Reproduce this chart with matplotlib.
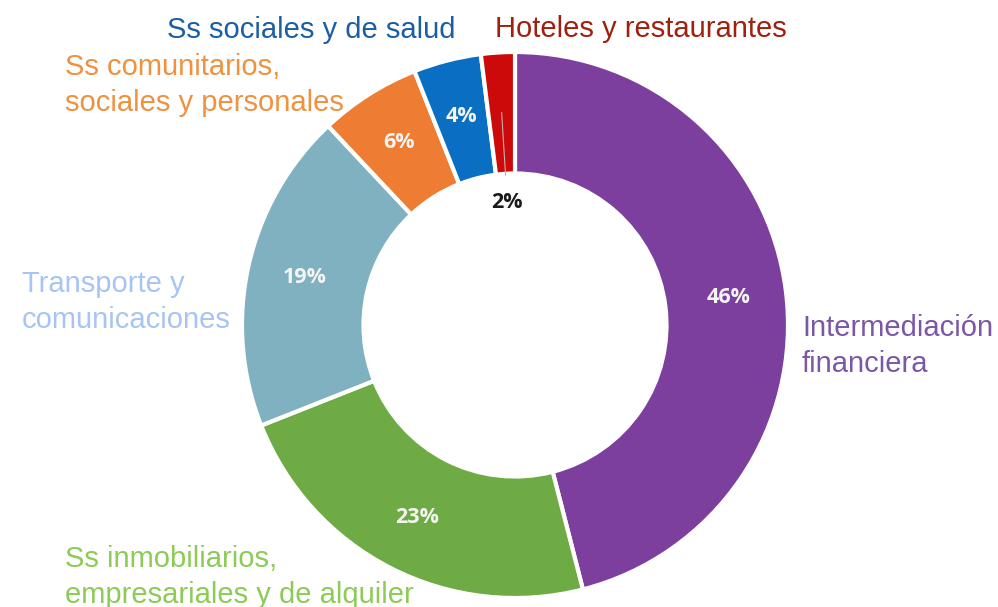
import numpy as np
import matplotlib
matplotlib.use("Agg")
import matplotlib.pyplot as plt

# data, clockwise from the top
sectors = ["Intermediación\nfinanciera",
           "Ss inmobiliarios,\nempresariales y de alquiler",
           "Transporte y\ncomunicaciones",
           "Ss comunitarios,\nsociales y personales",
           "Ss sociales y de salud",
           "Hoteles y restaurantes"]
shares = [46, 23, 19, 6, 4, 2]

wedge_colors = ["#7d3f9e", "#6fab45", "#80b1c1", "#ee7d33", "#0a6fc2", "#cc0a0a"]
text_colors = ["#7b57a6", "#8ccb55", "#a7c4f2", "#f0913f", "#1b5ea4", "#a0200f"]
# label anchors (pixels from top-left): left edge, top of first line
label_pos = [(802, 314), (65, 545), (22, 270), (65, 53), (167, 16), (495, 15)]

W, H = 998, 607
cx, cy, R = 515, 282, 273

fig = plt.figure(figsize=(W / 100, H / 100), dpi=100)
ax = fig.add_axes([0, 0, 1, 1])
ax.set_xlim(0, W)
ax.set_ylim(0, H)
ax.set_aspect("equal")
ax.axis("off")

wedges, _, pcts = ax.pie(shares, colors=wedge_colors, startangle=90, counterclock=False,
                         center=(cx, cy), radius=R, autopct="%d%%", pctdistance=0.79,
                         wedgeprops=dict(width=R * 0.445, edgecolor="white", linewidth=3),
                         textprops=dict(color="#f4f4f4", fontsize=15.5, fontweight="bold",
                                        family="Open Sans"))
ax.set_xlim(0, W)
ax.set_ylim(0, H)

# the small red slice gets its label inside the hole with a leader line
red = wedges[-1]
mid = np.deg2rad((red.theta1 + red.theta2) / 2)
ax.plot([cx + 0.78 * R * np.cos(mid), cx + 0.55 * R * np.cos(mid)],
        [cy + 0.78 * R * np.sin(mid), cy + 0.55 * R * np.sin(mid)],
        color="#c8b0b0", lw=0.8)
pcts[-1].set_position((cx + 0.45 * R * np.cos(mid), cy + 0.45 * R * np.sin(mid)))
pcts[-1].set_color("#1a1a1a")

for name, col, (x, y) in zip(sectors, text_colors, label_pos):
    ax.text(x, H - y, name, color=col, fontsize=21, family="Liberation Sans",
            ha="left", va="top", linespacing=1.36)

fig.savefig("out.png", dpi=100)
